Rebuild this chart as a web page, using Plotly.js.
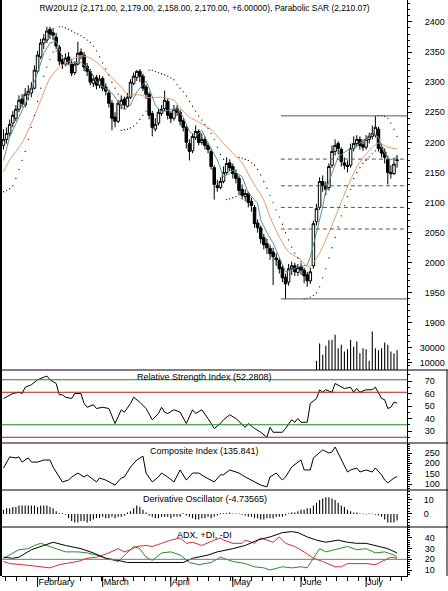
<!DOCTYPE html>
<html><head><meta charset="utf-8">
<script src="https://cdn.plot.ly/plotly-3.0.1.min.js"></script>
<style>html,body{margin:0;padding:0;background:#fff;}#chart{width:448px;height:591px;}</style>
</head><body><div id="chart"></div>
<script>
// ---- price data (daily bars, index 0 = first bar) ----
const openP = [2195,2205,2215,2232,2240,2255,2272,2262,2280,2282, 2290,2318,2342,2365,2370,2388,2382,2375,2358,2338, 2330,2342,2330,2316,2330,2350,2345,2326,2318,2298, 2308,2295,2306,2292,2282,2265,2242,2235,2262,2272, 2260,2275,2298,2308,2318,2310,2292,2280,2248,2222, 2232,2248,2256,2268,2248,2240,2256,2250,2236,2225, 2198,2186,2208,2218,2200,2205,2195,2185,2158,2128, 2125,2135,2150,2166,2160,2148,2140,2122,2110,2115, 2102,2092,2066,2058,2042,2032,2024,2018,2008,2004, 1992,1976,1968,1990,1995,1984,1994,1988,1980,1970, 1995,2068,2092,2135,2128,2125,2162,2185,2198,2188, 2166,2162,2162,2190,2198,2205,2196,2192,2205,2210, 2212,2222,2192,2184,2172,2150,2148,2171];
const highP = [2222,2225,2238,2252,2262,2278,2280,2290,2295,2300, 2328,2352,2372,2380,2392,2392,2390,2382,2362,2345, 2348,2350,2338,2335,2367,2356,2350,2332,2322,2312, 2312,2312,2310,2298,2288,2270,2250,2270,2278,2276, 2282,2305,2316,2320,2322,2314,2296,2284,2252,2240, 2256,2262,2286,2272,2252,2262,2262,2254,2240,2228, 2205,2215,2228,2222,2215,2210,2200,2190,2162,2138, 2142,2160,2175,2172,2165,2155,2145,2130,2122,2118, 2108,2096,2072,2062,2048,2040,2030,2025,2016,2008, 1996,1982,1998,2002,2000,1998,2000,1992,1985,1992, 2070,2098,2142,2145,2135,2165,2195,2205,2202,2192, 2175,2170,2198,2210,2212,2210,2205,2212,2216,2228, 2244,2226,2198,2190,2178,2162,2172,2179];
const lowP = [2188,2198,2210,2225,2235,2250,2258,2258,2270,2275, 2288,2315,2338,2355,2365,2372,2370,2355,2328,2322, 2326,2328,2310,2312,2328,2338,2318,2310,2295,2292, 2288,2290,2285,2278,2258,2220,2225,2232,2255,2255, 2258,2272,2295,2302,2300,2285,2272,2238,2210,2218, 2228,2244,2252,2238,2232,2236,2244,2228,2218,2190, 2170,2182,2204,2195,2196,2188,2182,2155,2105,2118, 2122,2132,2146,2152,2140,2132,2112,2105,2102,2092, 2085,2058,2050,2032,2022,2015,2005,1963,1995,1982, 1968,1940,1962,1980,1978,1978,1980,1966,1960,1965, 1990,2062,2088,2118,2112,2120,2158,2178,2180,2160, 2155,2150,2158,2185,2192,2188,2186,2188,2198,2205, 2208,2185,2175,2165,2130,2140,2146,2158];
const closeP = [2205,2215,2230,2245,2255,2270,2265,2280,2285,2290, 2320,2345,2365,2372,2385,2380,2378,2360,2335,2330, 2340,2332,2315,2330,2348,2345,2325,2318,2300,2305, 2295,2305,2290,2285,2265,2240,2235,2265,2270,2262, 2275,2300,2310,2318,2310,2290,2280,2245,2225,2230, 2250,2255,2270,2245,2240,2255,2250,2235,2225,2200, 2185,2210,2218,2200,2205,2195,2188,2160,2130,2125, 2135,2150,2165,2158,2148,2140,2120,2112,2115,2100, 2095,2065,2058,2040,2030,2025,2015,2010,2005,1990, 1975,1965,1990,1995,1985,1992,1988,1978,1970,1985, 2065,2090,2135,2128,2122,2160,2185,2195,2190,2168, 2162,2160,2190,2198,2205,2195,2192,2205,2210,2215, 2225,2190,2182,2175,2150,2148,2164,2170];
const sar = [2118,2120,2123,2128,2140,2155,2170,2185,2205,2225,2245,2268,2290,2310,2325,2338,2350,2352,
  2392,2392,2390,2388,2385,2382,2380,2377,2374,2370,2366,2360,2352,2342,2332,2322,2312,2300,2290,2280,
  2220,2221,2222,2224,2227,2232,2238,2245,2252,
  2320,2320,2318,2316,2314,2312,2310,2307,2304,2296,2290,2284,2277,2268,2260,2252,2244,2237,2230,2223,2215,2205,2192,2180,2172,
  2105,2106,2108,2110,
  2175,2174,2172,2170,2166,2162,2155,2146,2135,2124,2112,2100,2088,2076,2064,2050,2038,2026,2016,2008,2002,
  1940,1941,1943,1946,1950,1960,1975,1990,2008,2025,2042,2060,2078,2095,2110,2122,2140,2150,2158,2165,2170,2176,2181,2186,
  2245,2245,2243,2240,2232,2222,2210];
// moving averages read at sample bars
const maFastIdx = [0,2,5,8,11,13,15,17,20,23,25,28,30,33,35,37,39,41,43,46,47,49,51,54,56,58,60,62,64,66,69,71,73,74,77,79,82,83,85,87,89,91,93,95,98,99,101,103,104,106,108,111,113,115,117,119,121,122,124,125,127];
const maFastVal = [2170,2209,2242,2275,2315,2348,2365,2368,2328,2333,2333,2320,2300,2290,2282,2268,2254,2262,2284,2302,2290,2262,2250,2255,2255,2242,2218,2210,2220,2199,2171,2143,2149,2154,2143,2116,2099,2071,2050,2033,2010,1985,1988,1993,1996,2010,2050,2093,2121,2149,2176,2187,2190,2199,2204,2215,2209,2192,2174,2171,2176];
const maSlowIdx = [0,2,6,9,12,15,18,21,25,28,31,34,38,40,44,47,51,55,57,60,63,67,70,74,77,80,84,86,89,92,96,98,100,102,105,108,111,114,116,119,121,124,127];
const maSlowVal = [2151,2171,2199,2232,2270,2307,2325,2334,2344,2340,2329,2312,2292,2279,2279,2274,2275,2270,2257,2242,2234,2221,2204,2182,2166,2138,2104,2076,2043,2018,2005,1993,2000,2016,2050,2088,2126,2159,2174,2192,2199,2192,2189];
// volume (only the last bars carry volume)
const volume = [12200,35300,20200,32200,39800,40200,46900,29100,33600,24700,27800,40200,30900,38000,22400,29100,27800,12200,51300,29100,26400,29100,36700,33600,24700,22000,26400];
// indicators
const rsiIdx = [0,3,5,6,7,9,11,12,14,15,17,18,19,20,22,23,25,26,27,29,30,32,34,36,38,39,41,42,44,46,48,50,51,52,53,55,57,59,61,62,64,66,68,70,71,73,75,78,79,81,83,85,86,87,90,91,93,94,95,96,98,99,101,102,103,104,106,107,109,110,112,113,114,115,117,119,120,122,123,124,125,126,127];
const rsiVal = [56,60,61,60,65,67,71,72,74,71,68,59,59,57,56,60,60,52,49,51,48,49,48,36,47,45,52,57,53,48,39,44,49,45,44,47,45,36,47,44,47,40,32,36,39,43,40,33,36,32,29,25,33,29,29,32,39,37,40,37,37,52,56,63,61,63,61,68,65,64,65,61,64,61,63,63,65,56,55,48,49,53,52.28];
const compIdx = [0,1,2,4,5,6,8,9,11,13,15,16,18,19,21,22,24,26,27,30,31,33,36,38,39,41,43,45,46,48,50,51,53,55,57,59,61,63,65,68,70,71,73,76,78,81,83,85,86,88,90,91,93,95,96,97,99,100,102,103,105,106,107,109,111,112,114,115,117,119,120,122,123,124,126,127];
const compVal = [177,206,231,226,231,206,226,206,206,216,216,182,134,110,119,134,153,134,144,110,129,119,95,129,134,182,216,235,153,110,134,153,134,110,168,119,153,153,134,110,144,145,168,153,134,110,95,86,134,153,119,134,182,206,216,168,168,226,255,265,250,255,279,216,158,168,177,158,168,158,177,144,119,105,129,135.84];
const dOsc = [3,4,4,5,5,6,6,6,6,6,6,5,6,6,6,5,4,2, 0.5,0.5,-0.5, -3,-5,-6,-6,-5,-5,-6,-5,-4, -3,-3,-2,-3,-3,-2,-3,-2,-2,-1,1, 2,4,6,5,3,1, -1,-2,-3,-3,-2,-2,-2,-3,-2,-2,-2,0.5,-1,-2, -3,-4,-4,-3,-3,-2,-3,-2,-1,0.5, 0.5,0.5,1,0.3,0.3,0.3,-0.5,-1,-2, -2,-3,-3,-4,-4,-3,-3,-3,-2,-2,-2,-1,0.5, 1,1,2,3,3,4,4, 6,8,10,11,12,12,11,10,8,6,5, 3,2,1,1,0.3,0.3,-0.3,0.3,0.3, -0.5,-1,-2,-4,-6,-6,-6,-4.74];
const adxIdx = [0,3,5,9,13,16,20,25,29,33,37,40,45,53,58,61,66,69,71,74,78,82,86,90,93,95,98,101,104,108,111,114,117,120,124,127];
const adxVal = [22,21,22,29,33,36,33,30,26,21,19,17,17,17,17,21,24,27,28,30,33,38,41,45,46,45,41,38,36,38,36,35,35,33,30,26];
const pdiIdx = [0,2,5,8,10,12,15,18,20,24,27,30,33,37,40,42,44,46,48,51,54,57,60,63,67,70,71,74,78,81,84,86,90,93,96,98,100,102,104,108,111,114,117,120,123,126,127];
const pdiVal = [21,24,29,30,33,35,32,29,27,27,26,24,21,18,27,32,30,22,19,26,27,24,17,15,17,22,21,18,16,13,12,10,13,12,13,12,21,30,27,30,32,29,30,26,27,24,22];
const mdiIdx = [0,2,6,11,15,18,20,24,27,30,32,34,37,39,41,43,46,48,51,54,57,59,61,64,68,70,71,74,77,78,81,83,85,87,89,91,94,97,100,103,107,109,111,114,117,120,123,125,127];
const mdiVal = [18,16,15,13,12,15,16,18,21,22,24,26,30,27,29,32,33,32,35,38,40,35,36,33,38,40,38,35,35,38,35,40,38,36,41,35,32,27,21,18,13,13,16,16,16,15,19,22,21];
// month axis
const monthIdx = [11,32,54,74,96,117];
const monthNames = ['February','March','April','May','June','July'];

// ---- build ----
const N = closeP.length;
const idx = closeP.map((_, i) => i);
const volIdx = volume.map((_, k) => N - volume.length + k);
const lowIdx = lowP.indexOf(Math.min(...lowP));
const fibLow = lowP[lowIdx];
const fibHigh = Math.max(...highP.slice(lowIdx));

const H = 576; // plot area height in px
const py = p => 1 - p / H;
const xRange = [-0.48, 130.2];
const FONT = 'Liberation Sans, Arial, sans-serif';

const traces = [
  {type:'candlestick', x: idx, open: openP, high: highP, low: lowP, close: closeP, xaxis:'x', yaxis:'y',
   increasing:{line:{color:'#000', width:1}, fillcolor:'#fff'},
   decreasing:{line:{color:'#000', width:1}, fillcolor:'#000'}, whiskerwidth:0, hoverinfo:'skip', showlegend:false},
  {type:'scatter', mode:'lines', x: maSlowIdx, y: maSlowVal, line:{color:'#e39a6a', width:1, shape:'spline', smoothing:0.6}, yaxis:'y', hoverinfo:'skip', showlegend:false},
  {type:'scatter', mode:'lines', x: maFastIdx, y: maFastVal, line:{color:'#5b9597', width:1}, yaxis:'y', hoverinfo:'skip', showlegend:false},
  {type:'scatter', mode:'markers', x: idx, y: sar, marker:{color:'#111', size:1.3}, yaxis:'y', hoverinfo:'skip', showlegend:false},
  {type:'bar', x: volIdx, y: volume, width:0.35, marker:{color:'#000', line:{width:0}}, yaxis:'y2', hoverinfo:'skip', showlegend:false},
  {type:'scatter', mode:'lines', x: rsiIdx, y: rsiVal, line:{color:'#000', width:1}, yaxis:'y3', hoverinfo:'skip', showlegend:false},
  {type:'scatter', mode:'lines', x: compIdx, y: compVal, line:{color:'#000', width:1}, yaxis:'y4', hoverinfo:'skip', showlegend:false},
  {type:'bar', x: idx, y: dOsc, width:0.35, marker:{color:'#000', line:{width:0}}, yaxis:'y5', hoverinfo:'skip', showlegend:false},
  {type:'scatter', mode:'lines', x: pdiIdx, y: pdiVal, line:{color:'#2f8a2f', width:1}, yaxis:'y6', hoverinfo:'skip', showlegend:false},
  {type:'scatter', mode:'lines', x: mdiIdx, y: mdiVal, line:{color:'#cc3333', width:1}, yaxis:'y6', hoverinfo:'skip', showlegend:false},
  {type:'scatter', mode:'lines', x: adxIdx, y: adxVal, line:{color:'#000', width:1}, yaxis:'y6', hoverinfo:'skip', showlegend:false}
];

function yax(top, bottom, range, tickvals, minorD, standoff) {
  return {domain:[py(bottom), py(top)], range: range, side:'right', anchor:'x',
    showline:true, linecolor:'#000', linewidth:1, ticks:'outside', ticklen:4, tickcolor:'#000',
    tickvals: tickvals, tickformat:'d', showgrid:false, zeroline:false, fixedrange:true,
    ticklabelstandoff: standoff,
    tickfont:{size:9, color:'#000', family:FONT},
    minor: minorD ? {dtick: minorD, ticks:'outside', ticklen:2, tickcolor:'#000'} : undefined};
}

const shapes = [];
// panel separators across the full width
[370, 443, 490, 527].forEach(p => shapes.push({type:'line', xref:'paper', yref:'paper', x0:-2/405, x1:446/405, y0:py(p), y1:py(p), line:{color:'#000', width:1}}));
// frame
shapes.push({type:'line', xref:'paper', yref:'paper', x0:-1/405, x1:-1/405, y0:0, y1:1, line:{color:'#000', width:2}});
shapes.push({type:'line', xref:'paper', yref:'paper', x0:445/405, x1:445/405, y0:py(527+49), y1:py(370), line:{color:'#000', width:1}});
// RSI bands
[[71,'#1f8a1f'],[61,'#b02020'],[35,'#1f8a1f'],[25,'#b02020']].forEach(([v,c]) => shapes.push({type:'line', xref:'paper', yref:'y3', x0:0, x1:1, y0:v, y1:v, line:{color:c, width:1}}));
// ADX reference
shapes.push({type:'line', xref:'paper', yref:'y6', x0:0, x1:1, y0:20, y1:20, line:{color:'#777', width:1}});
// Fibonacci retracement from swing low
[0, 1].forEach(f => { const v = fibHigh - f*(fibHigh - fibLow); shapes.push({type:'line', xref:'x', yref:'y', x0:lowIdx-1.5, x1:xRange[1], y0:v, y1:v, line:{color:'#555', width:1}}); });
[0.236, 0.382, 0.5, 0.618].forEach(f => { const v = fibHigh - f*(fibHigh - fibLow); shapes.push({type:'line', xref:'x', yref:'y', x0:lowIdx-1.5, x1:xRange[1], y0:v, y1:v, line:{color:'#555', width:1, dash:'4px,3px'}}); });
// long month ticks
monthIdx.forEach(m => shapes.push({type:'line', xref:'x', yref:'paper', x0:m, x1:m, y0:0, y1:-11/H, line:{color:'#000', width:1}}));

const ann = (text, p) => ({text, xref:'paper', yref:'paper', x:0.5, y:py(p), xanchor:'center', yanchor:'middle', showarrow:false, font:{size:9, color:'#000', family:FONT}});

const layout = {
  width:448, height:591, margin:{l:2, r:41, t:0, b:15},
  paper_bgcolor:'#fff', plot_bgcolor:'rgba(0,0,0,0)', showlegend:false,
  boxgap:0.1, boxgroupgap:0.1,
  font:{family:FONT, size:9, color:'#000'},
  title:{text:'RW20U12 (2,171.00, 2,179.00, 2,158.00, 2,170.00, +6.00000), Parabolic SAR (2,210.07)',
    font:{size:8.4, color:'#000', family:FONT}, x:0.5, xref:'paper', xanchor:'center', y:1-8/591, yref:'container', yanchor:'middle'},
  xaxis:{domain:[0,1], range:xRange, anchor:'y6', showline:true, linecolor:'#000', ticks:'outside', ticklen:4, tickcolor:'#000',
    tickvals: monthIdx, ticktext: monthNames, ticklabelposition:'outside right', ticklabelstandoff:-3, showgrid:false, zeroline:false, fixedrange:true,
    rangeslider:{visible:false}, tickfont:{size:9, color:'#000', family:FONT},
    minor:{tickmode:'linear', tick0:11, dtick:3.45, ticks:'outside', ticklen:4, tickcolor:'#000'}},
  yaxis: yax(0, 370, [1821.9, 2436.5], [1900,1950,2000,2050,2100,2150,2200,2250,2300,2350,2400], 10, 11),
  yaxis2: yax(325, 370, [0, 60000], [10000, 30000], null, 6),
  yaxis3: yax(370, 443, [20.4, 78.8], [30,40,50,60,70], 5, 11),
  yaxis4: yax(443, 490, [71, 298.4], [100,150,200,250], 10, 11),
  yaxis5: yax(490, 527, [-9.29, 17.1], [0,10], 2, 10),
  yaxis6: yax(527, 576, [4.375, 50.3], [10,20,30,40], 2, 11),
  shapes: shapes,
  annotations: [
    ann('Relative Strength Index (52.2808)', 377),
    ann('Composite Index (135.841)', 451),
    ann('Derivative Oscillator (-4.73565)', 499),
    ann('ADX, +DI, -DI', 535)
  ]
};
layout.yaxis2.showline = false;
Plotly.newPlot('chart', traces, layout, {staticPlot:true, displayModeBar:false});
</script></body></html>
